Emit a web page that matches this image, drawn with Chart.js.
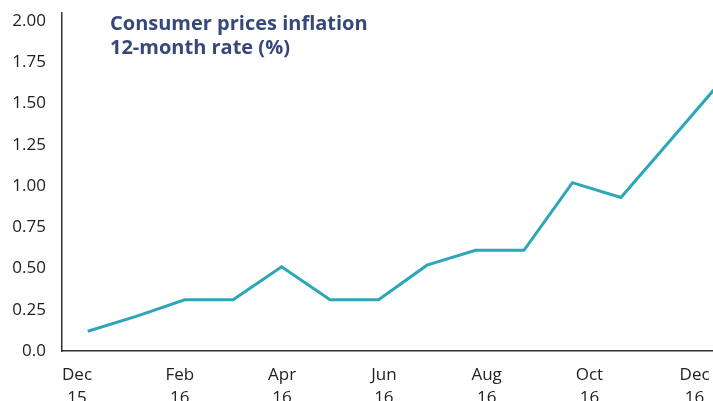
<!DOCTYPE html>
<html lang="en">
<head>
    <meta charset="UTF-8">
    <title>Consumer prices inflation</title>
    <script src="https://cdn.jsdelivr.net/npm/chart.js"></script>
    <style>
        body { margin: 0; background: #fff; }
        canvas { display: block; }
    </style>
</head>
<body>
    <canvas id="chart" width="713" height="401"></canvas>
    <script>
        // monthly readings, Nov 15 .. Dec 16 (the last one runs off the right edge)
        const months = ['Nov 15', 'Dec 15', 'Jan 16', 'Feb 16', 'Mar 16', 'Apr 16', 'May 16',
            'Jun 16', 'Jul 16', 'Aug 16', 'Sep 16', 'Oct 16', 'Nov 16', 'Dec 16'];
        const inflation = [0.12, 0.21, 0.31, 0.31, 0.51, 0.31, 0.31, 0.52, 0.61, 0.61, 1.02, 0.93, 1.27, 1.61];

        // x tick labels and where they sit, in month steps from the first reading
        const xTickLabels = [['Dec', '15'], ['Feb', '16'], ['Apr', '16'], ['Jun', '16'],
            ['Aug', '16'], ['Oct', '16'], ['Dec', '16']];
        const xTickPos = [-0.22, 1.9, 4.01, 6.11, 8.23, 10.35, 12.52];

        const yTickValues = [0, 0.25, 0.5, 0.75, 1, 1.25, 1.5, 1.75, 2];
        const yTickLabels = ['0.0', '0.25', '0.50', '0.75', '1.00', '1.25', '1.50', '1.75', '2.00'];

        const titleLines = ['Consumer prices inflation', '12-month rate (%)'];

        const titlePlugin = {
            id: 'insideTitle',
            afterDraw(chart) {
                const ctx = chart.ctx;
                ctx.save();
                ctx.font = 'bold 20px "Open Sans"';
                ctx.fillStyle = '#36487a';
                ctx.textBaseline = 'alphabetic';
                ctx.fillText(titleLines[0], 110, 29.5);
                ctx.fillText(titleLines[1], 110, 54);
                ctx.restore();
            }
        };

        const ctx = document.getElementById('chart').getContext('2d');
        new Chart(ctx, {
            type: 'line',
            data: {
                datasets: [{
                    data: months.map((m, i) => ({ x: i, y: inflation[i] })),
                    borderColor: '#2ba7b8',
                    borderWidth: 3,
                    pointRadius: 0,
                    tension: 0,
                    fill: false
                }]
            },
            options: {
                responsive: false,
                animation: false,
                layout: { padding: { top: 13, left: 0, right: 0, bottom: 0 } },
                plugins: {
                    legend: { display: false },
                    tooltip: { enabled: false }
                },
                scales: {
                    x: {
                        type: 'linear',
                        min: -0.53,
                        max: 12.9,
                        grid: { display: false, drawTicks: false },
                        border: { display: true, color: '#333', width: 1.5 },
                        afterBuildTicks: (scale) => {
                            scale.ticks = xTickPos.map(v => ({ value: v }));
                        },
                        afterFit: (scale) => {
                            scale.height = 50;
                            scale.paddingLeft = 0;
                            scale.paddingRight = 0;
                        },
                        ticks: {
                            autoSkip: false,
                            maxRotation: 0,
                            minRotation: 0,
                            padding: 13,
                            color: '#222',
                            font: { family: 'Open Sans', size: 17, lineHeight: 1.35 },
                            callback: (v, i) => xTickLabels[i]
                        }
                    },
                    y: {
                        min: 0,
                        max: 2.048,
                        grid: { display: false, drawTicks: false },
                        border: { display: true, color: '#333', width: 1.5 },
                        afterBuildTicks: (scale) => {
                            scale.ticks = yTickValues.map(v => ({ value: v }));
                        },
                        afterFit: (scale) => {
                            scale.width = 62;
                            scale.paddingTop = 0;
                            scale.paddingBottom = 0;
                        },
                        ticks: {
                            padding: 16,
                            color: '#222',
                            font: { family: 'Open Sans', size: 17 },
                            callback: (v, i) => yTickLabels[i]
                        }
                    }
                }
            },
            plugins: [titlePlugin]
        });
    </script>
</body>
</html>
